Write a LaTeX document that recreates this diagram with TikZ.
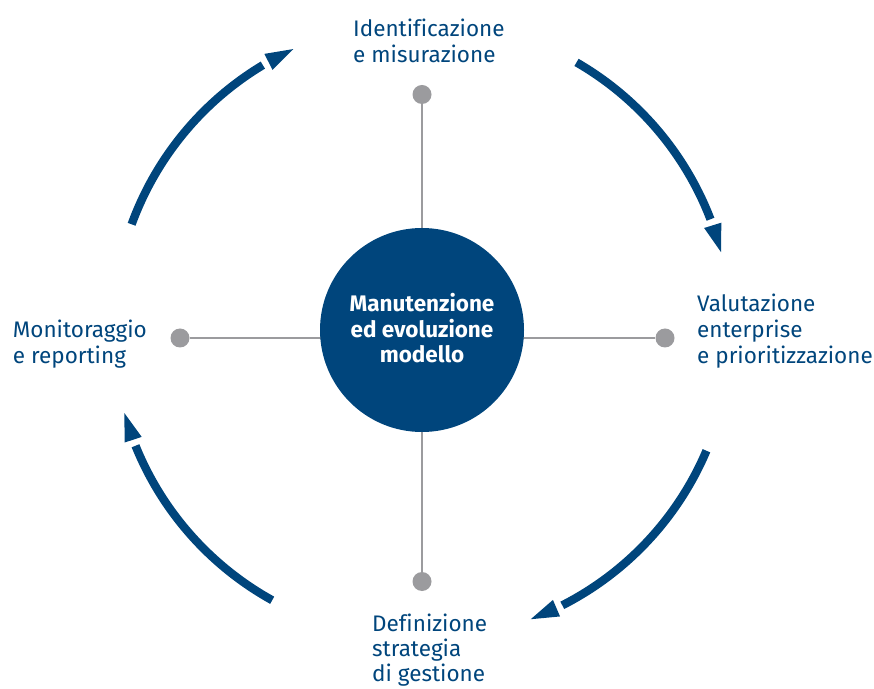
\documentclass[tikz,border=0pt]{standalone}
\usepackage{fontspec}
\setmainfont[Ligatures=NoCommon]{Fira Sans}
\usetikzlibrary{calc}
\definecolor{navy}{RGB}{0,69,124}
\definecolor{greyline}{RGB}{155,155,158}
\begin{document}
\begin{tikzpicture}[x=1pt,y=1pt,
  cyclearc/.style={draw=navy,line width=8.3pt},
  tipfill/.style={fill=navy},
  spoke/.style={draw=greyline,line width=2.6pt},
  dotnode/.style={circle,fill=greyline,minimum size=19pt,inner sep=0pt},
  labeltext/.style={text=navy,font=\fontsize{22.5}{26}\selectfont,align=left,inner sep=0pt,anchor=base west},
  hub/.style={circle,fill=navy,minimum size=204pt,inner sep=0pt}
]
\useasboundingbox (0,0) rectangle (874,688);
\coordinate (C) at (422,358);
% dots
\node[dotnode] (dT) at (422,593.5) {};
\node[dotnode] (dB) at (422,106.5) {};
\node[dotnode] (dL) at (180,350) {};
\node[dotnode] (dR) at (665,350) {};
% spokes
\draw[spoke] (dT) -- (dB);
\draw[spoke] (dL) -- (dR);
% hub
\node[hub] (hub) at (C) {};
\node[text=white,font=\bfseries\fontsize{22.5}{25.5}\selectfont,align=center,inner sep=0pt,anchor=base] (hubtext) at (422,325.3) {Manutenzione\\ed evoluzione\\modello};
% arcs
\def\R{309}
\foreach \s/\e in {60/21, 160/121, -23/-63, 241/202}{
  \draw[cyclearc] ($(C)+(\s:\R)$) arc[start angle=\s, end angle=\e, radius=\R];
  \pgfmathsetmacro{\b}{\e-1.2}
  \pgfmathsetmacro{\t}{\e-6.4}
  \coordinate (B) at ($(C)+(\b:\R)$);
  \coordinate (T) at ($(C)+(\t:\R)$);
  \fill[tipfill] (T) -- ($(B)!9pt!90:(T)$) -- ($(B)!9pt!-90:(T)$) -- cycle;
}
% labels (anchor = baseline of last line)
\node[labeltext,font=\fontsize{22.5}{26.5}\selectfont] (lT) at (353,625) {Identificazione\\e misurazione};
\node[labeltext] (lL) at (12.7,324.7) {Monitoraggio\\e reporting};
\node[labeltext] (lR) at (697,324.3) {Valutazione\\enterprise\\e prioritizzazione};
\node[labeltext,font=\fontsize{22.5}{25}\selectfont] (lB) at (372,6.3) {Definizione\\strategia\\di gestione};
\end{tikzpicture}
\end{document}
